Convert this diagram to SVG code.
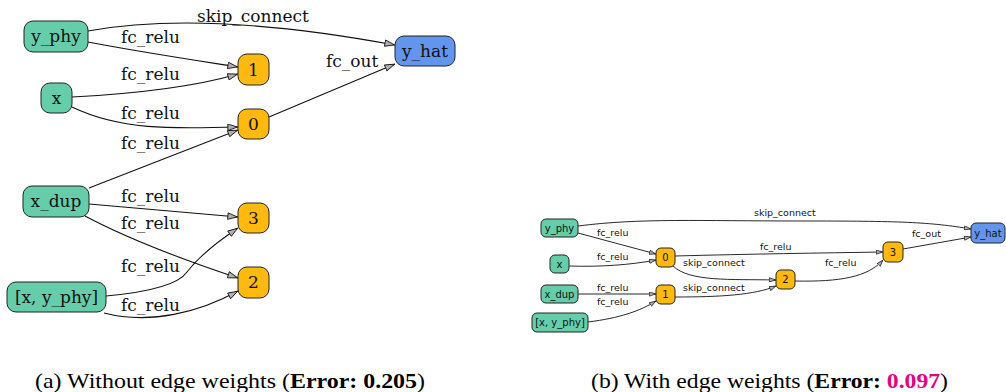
<svg xmlns="http://www.w3.org/2000/svg" width="1006" height="392" viewBox="0 0 1006 392">
<style>
.g{fill:#66cdaa;stroke:#222;stroke-width:1}
.o{fill:#ffb90f;stroke:#222;stroke-width:1}
.b{fill:#6495ed;stroke:#222;stroke-width:1}
.tl{font-family:"DejaVu Serif",serif;font-size:17px;fill:#111;text-anchor:middle}
.tr{font-family:"DejaVu Sans",sans-serif;font-size:10px;fill:#111;text-anchor:middle}
.el{font-family:"DejaVu Serif",serif;font-size:17px;fill:#111}
.er{font-family:"DejaVu Sans",sans-serif;font-size:9.5px;fill:#111}
.cl{fill:none;stroke:#111;stroke-width:1.1}
.cr{fill:none;stroke:#111;stroke-width:0.9}
.cap{font-family:"Liberation Serif",serif;font-size:21px;fill:#000}
</style>
<defs>
<marker id="al" viewBox="0 0 10 7" refX="10" refY="3.5" markerWidth="11" markerHeight="7.5" orient="auto" markerUnits="userSpaceOnUse"><path d="M0.5,0.5 L9.5,3.5 L0.5,6.5 z" fill="#b0b0b0" stroke="#111" stroke-width="0.8"/></marker>
<marker id="ar" viewBox="0 0 10 7" refX="10" refY="3.5" markerWidth="7" markerHeight="5" orient="auto" markerUnits="userSpaceOnUse"><path d="M0.5,0.5 L9.5,3.5 L0.5,6.5 z" fill="#b0b0b0" stroke="#111" stroke-width="1"/></marker>
</defs>
<g id="connectors">
<g id="conn-a">
<path class="cl" marker-end="url(#al)" d="M88,31 C160,18 260,20 395,45"/>
<path class="cl" marker-end="url(#al)" d="M88,42 C140,52 200,61 238,67"/>
<path class="cl" marker-end="url(#al)" d="M72,97 C130,94 190,88 238,74"/>
<path class="cl" marker-end="url(#al)" d="M72,107 C120,130 170,129 238,127"/>
<path class="cl" marker-end="url(#al)" d="M89,188 L238,130"/>
<path class="cl" marker-end="url(#al)" d="M269,117 L395,64"/>
<path class="cl" marker-end="url(#al)" d="M89,204 L238,217"/>
<path class="cl" marker-end="url(#al)" d="M85,216 C130,240 190,262 238,278"/>
<path class="cl" marker-end="url(#al)" d="M106,296 C150,292 178,285 187,272 C200,255 220,240 238,228"/>
<path class="cl" marker-end="url(#al)" d="M104,313 C150,325 200,312 238,291"/>
</g>
<g id="conn-b">
<path class="cr" marker-end="url(#ar)" d="M578,226 C640,218 700,221 800,221 C900,221 930,222 971,229"/>
<path class="cr" marker-end="url(#ar)" d="M578,233 L656,254"/>
<path class="cr" marker-end="url(#ar)" d="M569,266 C600,267 630,265 656,260"/>
<path class="cr" marker-end="url(#ar)" d="M675,256 C750,254 820,253 883,252"/>
<path class="cr" marker-end="url(#ar)" d="M673,266 C690,282 730,279 776,280"/>
<path class="cr" marker-end="url(#ar)" d="M675,297 C720,297 755,295 776,286"/>
<path class="cr" marker-end="url(#ar)" d="M578,294 L656,294"/>
<path class="cr" marker-end="url(#ar)" d="M588,322 C620,318 640,311 656,301"/>
<path class="cr" marker-end="url(#ar)" d="M795,281 C840,282 868,277 883,260"/>
<path class="cr" marker-end="url(#ar)" d="M903,249 L971,237"/>
</g>
<g id="labels-a">
<text class="el" x="197" y="22">skip_connect</text>
<text class="el" x="121" y="43">fc_relu</text>
<text class="el" x="121" y="80">fc_relu</text>
<text class="el" x="121" y="119">fc_relu</text>
<text class="el" x="121" y="149">fc_relu</text>
<text class="el" x="326" y="67">fc_out</text>
<text class="el" x="121" y="202">fc_relu</text>
<text class="el" x="121" y="229">fc_relu</text>
<text class="el" x="121" y="272">fc_relu</text>
<text class="el" x="121" y="311">fc_relu</text>
</g>
<g id="labels-b">
<text class="er" x="754" y="216">skip_connect</text>
<text class="er" x="597" y="236">fc_relu</text>
<text class="er" x="597" y="260">fc_relu</text>
<text class="er" x="683" y="266">skip_connect</text>
<text class="er" x="760" y="250">fc_relu</text>
<text class="er" x="597" y="291">fc_relu</text>
<text class="er" x="597" y="305">fc_relu</text>
<text class="er" x="683" y="291">skip_connect</text>
<text class="er" x="825" y="266">fc_relu</text>
<text class="er" x="912" y="237">fc_out</text>
</g>
</g>
<g id="a-y_phy"><rect class="g" x="24" y="21" width="64" height="31" rx="9"/><text class="tl" x="56" y="42">y_phy</text></g>
<g id="a-x"><rect class="g" x="41" y="83" width="31" height="30" rx="9"/><text class="tl" x="56.5" y="104">x</text></g>
<g id="a-x_dup"><rect class="g" x="23" y="186" width="66" height="31" rx="9"/><text class="tl" x="56" y="207">x_dup</text></g>
<g id="a-xy"><rect class="g" x="7" y="282" width="99" height="30" rx="9"/><text class="tl" x="56.5" y="303">[x, y_phy]</text></g>
<g id="a-1"><rect class="o" x="238" y="54" width="31" height="31" rx="9"/><text class="tl" x="253.5" y="76">1</text></g>
<g id="a-0"><rect class="o" x="238" y="109" width="31" height="30" rx="9"/><text class="tl" x="253.5" y="130">0</text></g>
<g id="a-3"><rect class="o" x="238" y="203" width="31" height="30" rx="9"/><text class="tl" x="253.5" y="224">3</text></g>
<g id="a-2"><rect class="o" x="238" y="267" width="31" height="31" rx="9"/><text class="tl" x="253.5" y="288">2</text></g>
<g id="a-y_hat"><rect class="b" x="395" y="36" width="60" height="30" rx="9"/><text class="tl" x="425" y="57">y_hat</text></g>
<g id="b-y_phy"><rect class="g" x="541" y="219" width="37" height="18" rx="5"/><text class="tr" x="559.5" y="231.5">y_phy</text></g>
<g id="b-x"><rect class="g" x="550" y="255" width="19" height="18" rx="5"/><text class="tr" x="559.5" y="267.5">x</text></g>
<g id="b-x_dup"><rect class="g" x="541" y="285" width="37" height="18" rx="5"/><text class="tr" x="559.5" y="297.5">x_dup</text></g>
<g id="b-xy"><rect class="g" x="532" y="313" width="56" height="19" rx="5"/><text class="tr" x="560" y="326">[x, y_phy]</text></g>
<g id="b-0"><rect class="o" x="656" y="248" width="19" height="19" rx="5"/><text class="tr" x="665.5" y="261">0</text></g>
<g id="b-1"><rect class="o" x="656" y="285" width="19" height="19" rx="5"/><text class="tr" x="665.5" y="298">1</text></g>
<g id="b-2"><rect class="o" x="776" y="270" width="19" height="19" rx="5"/><text class="tr" x="785.5" y="283">2</text></g>
<g id="b-3"><rect class="o" x="883" y="242" width="20" height="20" rx="5"/><text class="tr" x="893" y="255.5">3</text></g>
<g id="b-y_hat"><rect class="b" x="971" y="223" width="34" height="20" rx="5"/><text class="tr" x="988" y="236.5">y_hat</text></g>
<g id="captions">
<text class="cap" x="35" y="388" textLength="390" lengthAdjust="spacingAndGlyphs">(a) Without edge weights (<tspan font-weight="bold">Error: 0.205</tspan>)</text>
<text class="cap" x="591" y="388" textLength="357" lengthAdjust="spacingAndGlyphs">(b) With edge weights (<tspan font-weight="bold">Error: <tspan fill="#e5007e">0.097</tspan></tspan>)</text>
</g>
</svg>
